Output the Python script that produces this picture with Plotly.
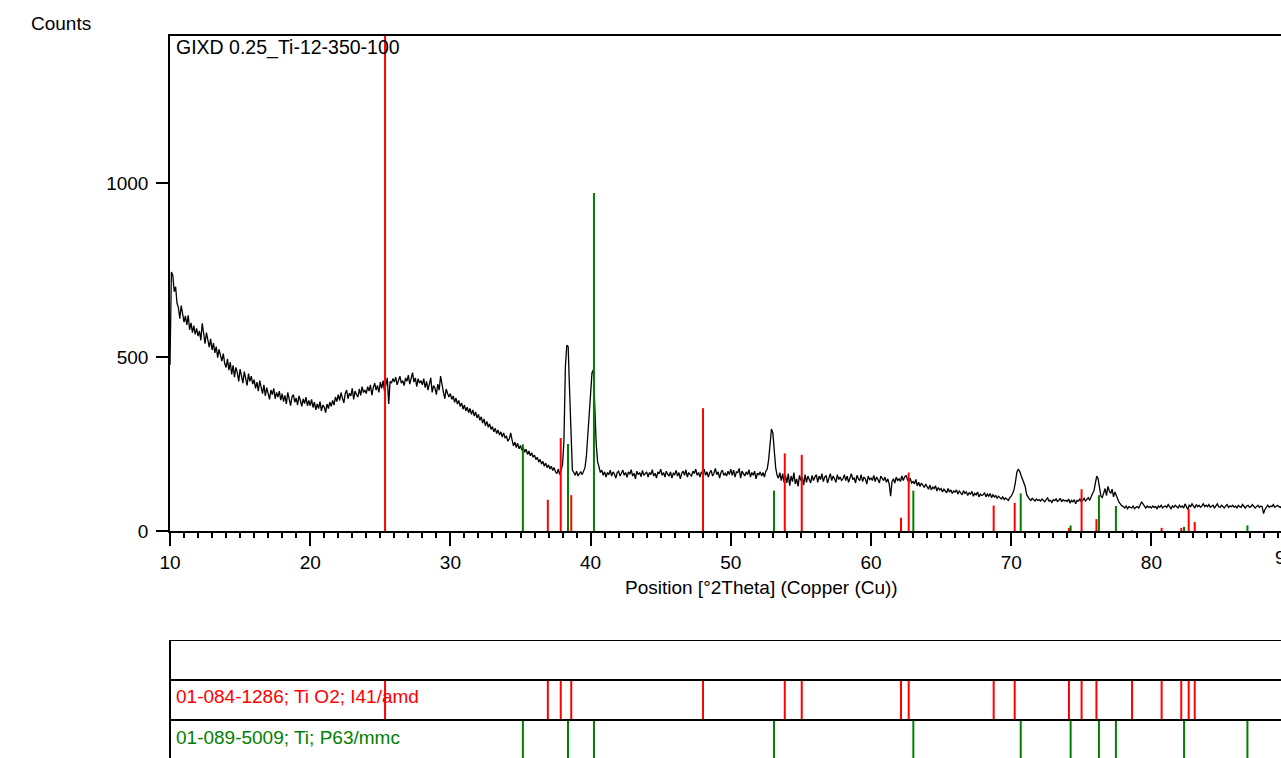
import numpy as np
import plotly.graph_objects as go

# ---------------- data ----------------
X_START = 10.0
X_STEP = 0.1
COUNTS = [
    # 10.0 - 11.9
    477, 744, 735, 688, 702, 655, 642, 610, 648, 625, 600, 618, 592, 620, 578, 598, 570, 590, 565, 582,
    # 12.0 - 13.9
    560, 575, 548, 597, 562, 538, 570, 545, 528, 552, 520, 540, 512, 530, 498, 522, 505, 488, 510, 482,
    # 14.0 - 15.9
    470, 495, 462, 485, 450, 476, 442, 470, 455, 430, 465, 448, 425, 458, 440, 418, 452, 430, 445, 422,
    # 16.0 - 17.9
    435, 410, 428, 402, 432, 415, 395, 420, 388, 412, 398, 378, 405, 392, 410, 380, 398, 385, 402, 376,
    # 18.0 - 19.9
    395, 372, 390, 365, 398, 380, 360, 385, 392, 370, 382, 362, 388, 375, 358, 380, 366, 385, 360, 375,
    # 20.0 - 21.9
    360, 378, 355, 370, 348, 365, 352, 372, 345, 362, 356, 340, 365, 352, 370, 358, 375, 362, 385, 372,
    # 22.0 - 23.9
    392, 375, 398, 382, 368, 395, 405, 380, 396, 388, 410, 378, 402, 392, 385, 408, 390, 415, 398, 405,
    # 24.0 - 25.9
    395, 415, 402, 420, 390, 412, 425, 405, 418, 398, 428, 410, 432, 402, 420, 440, 365, 430, 425, 438,
    # 26.0 - 27.9
    428, 442, 420, 436, 445, 425, 432, 418, 440, 430, 448, 422, 435, 455, 428, 440, 415, 438, 425, 432,
    # 28.0 - 29.9
    420, 438, 412, 430, 405, 425, 440, 398, 418, 410, 392, 422, 405, 445, 415, 400, 380, 408, 395, 385,
    # 30.0 - 31.9
    395, 378, 388, 370, 382, 365, 375, 358, 368, 350, 362, 345, 356, 340, 352, 335, 348, 330, 342, 325,
    # 32.0 - 33.9
    335, 318, 328, 310, 322, 302, 315, 298, 308, 292, 300, 285, 295, 280, 290, 276, 285, 270, 282, 268,
    # 34.0 - 35.9
    272, 258, 265, 282, 262, 245, 255, 240, 252, 236, 246, 232, 240, 226, 235, 220, 230, 216, 225, 212,
    # 36.0 - 37.9
    218, 205, 212, 198, 206, 192, 200, 186, 195, 182, 190, 178, 186, 174, 182, 170, 165, 178, 162, 175,
    # 38.0 - 39.9
    190, 260, 470, 534, 530, 405, 261, 175, 168, 160, 172, 158, 165, 170, 162, 175, 182, 215, 280, 330,
    # 40.0 - 41.9
    400, 455, 463, 356, 250, 200, 178, 168, 175, 160, 170, 155, 168, 162, 175, 158, 170, 164, 152, 168,
    # 42.0 - 43.9
    172, 158, 166, 175, 160, 168, 154, 170, 163, 176, 158, 166, 150, 172, 162, 168, 156, 174, 160, 165,
    # 44.0 - 45.9
    170, 155, 168, 162, 176, 158, 166, 152, 170, 164, 178, 160, 168, 155, 172, 163, 158, 170, 152, 166,
    # 46.0 - 47.9
    162, 174, 158, 168, 150, 166, 172, 160, 176, 155, 168, 162, 158, 172, 165, 178, 160, 168, 155, 170,
    # 48.0 - 49.9
    165, 178, 160, 170, 155, 168, 174, 158, 166, 180, 162, 170, 152, 168, 175, 160, 166, 158, 172, 162,
    # 50.0 - 51.9
    178, 160, 175, 155, 170, 168, 180, 152, 172, 165, 158, 170, 162, 176, 155, 168, 160, 172, 150, 166,
    # 52.0 - 53.9
    162, 170, 158, 168, 155, 172, 178, 205, 258, 293, 282, 232, 182, 160, 152, 168, 145, 165, 140, 160,
    # 54.0 - 55.9
    138, 165, 130, 158, 142, 168, 135, 150, 128, 160, 145, 155, 132, 162, 140, 158, 148, 138, 160, 145,
    # 56.0 - 57.9
    155, 162, 140, 158, 148, 165, 142, 155, 160, 138, 152, 165, 145, 158, 150, 140, 162, 148, 155, 145,
    # 58.0 - 59.9
    150, 162, 145, 158, 140, 155, 165, 148, 152, 138, 160, 150, 145, 162, 142, 155, 150, 135, 158, 148,
    # 60.0 - 61.9
    152, 145, 160, 142, 155, 148, 138, 158, 150, 145, 155, 140, 150, 135, 100, 142, 150, 138, 155, 145,
    # 62.0 - 63.9
    150, 142, 158, 145, 155, 160, 148, 140, 152, 138, 142, 135, 148, 130, 140, 128, 138, 132, 125, 135,
    # 64.0 - 65.9
    128, 120, 132, 118, 126, 122, 130, 115, 125, 118, 122, 112, 120, 116, 110, 122, 112, 118, 108, 115,
    # 66.0 - 67.9
    112, 118, 106, 115, 110, 104, 116, 108, 112, 102, 110, 106, 114, 100, 108, 104, 112, 98, 106, 102,
    # 68.0 - 69.9
    104, 110, 98, 106, 100, 108, 96, 104, 98, 102, 94, 100, 96, 92, 98, 90, 95, 92, 88, 96,
    # 70.0 - 71.9
    100, 108, 118, 140, 168, 177, 172, 160, 148, 142, 128, 105, 96, 92, 88, 94, 90, 86, 92, 88,
    # 72.0 - 73.9
    90, 86, 92, 88, 84, 90, 95, 86, 88, 82, 90, 87, 92, 85, 88, 94, 84, 90, 86, 88,
    # 74.0 - 75.9
    85, 92, 80, 88, 84, 90, 78, 88, 86, 92, 84, 88, 94, 86, 90, 96, 88, 100, 108, 115,
    # 76.0 - 77.9
    140, 158, 150, 120, 100, 96, 110, 122, 102, 128, 115, 108, 120, 98, 112, 104, 92, 82, 76, 72,
    # 78.0 - 79.9
    70, 66, 72, 64, 70, 68, 66, 72, 64, 68, 70, 66, 74, 84, 78, 70, 66, 72, 68, 70,
    # 80.0 - 81.9
    66, 72, 68, 70, 64, 72, 68, 74, 66, 70, 72, 68, 76, 70, 64, 72, 68, 74, 70, 66,
    # 82.0 - 83.9
    74, 68, 72, 66, 78, 70, 62, 74, 70, 78, 72, 66, 76, 70, 74, 68, 72, 78, 70, 74,
    # 84.0 - 85.9
    70, 76, 68, 72, 74, 66, 72, 78, 70, 68, 74, 70, 66, 72, 76, 68, 72, 70, 74, 68,
    # 86.0 - 87.9
    72, 66, 74, 70, 68, 76, 70, 66, 72, 74, 68, 70, 76, 72, 66, 70, 74, 68, 72, 70,
    # 88.0 - 89.4
    50, 62, 70, 74, 68, 72, 70, 76, 68, 72, 74, 70, 68, 72, 70,
]

# Reference pattern 01-084-1286; Ti O2; I41/amd
TIO2_POS = [25.34, 36.95, 37.87, 38.62, 48.02, 53.85, 55.06, 62.14, 62.69, 68.75,
            70.25, 74.12, 75.02, 76.08, 78.62, 80.73, 82.13, 82.66, 83.09]
TIO2_H = [1500, 90, 267, 103, 353, 223, 219, 38, 168, 73,
          81, 9, 120, 34, 2, 9, 9, 63, 26]

# Reference pattern 01-089-5009; Ti; P63/mmc
TI_POS = [35.17, 38.39, 40.24, 53.08, 63.02, 70.68, 74.24, 76.26, 77.47, 82.33, 86.85]
TI_H = [249, 250, 971, 116, 116, 108, 16, 103, 72, 12, 16]

X_TICKS = [10, 20, 30, 40, 50, 60, 70, 80, 90]
Y_TICKS = [0, 500, 1000]

SAMPLE_NAME = "GIXD 0.25_Ti-12-350-100"
TIO2_LABEL = "01-084-1286; Ti O2; I41/amd"
TI_LABEL = "01-089-5009; Ti; P63/mmc"
X_TITLE = "Position [°2Theta] (Copper (Cu))"
Y_TITLE = "Counts"

# ---------------- layout constants ----------------
WIN_W, WIN_H = 1281, 758
W = WIN_W
H = WIN_H + 11               # compensates the vertical shrink seen in the renderer
ML, MT = 170, 36
PLOT_H = WIN_H - 36
PLOT_W = WIN_W - 170
X_MAX = 89.245
Y_MAX = 1422.4
RED = "#FF0000"
GREEN = "#008000"
FONT = "Liberation Sans, Arial, sans-serif"
FS = 19


def pfy(py):
    """window pixel y -> paper fraction"""
    return (WIN_H - py) / PLOT_H


def pfx(px):
    """window pixel x -> paper fraction"""
    return (px - 170) / PLOT_W


x = np.round(X_START + X_STEP * np.arange(len(COUNTS)), 3)


def sticks(pos, y0, y1):
    xs, ys = [], []
    for p, a, b in zip(pos, y0, y1):
        xs += [p, p, None]
        ys += [a, b, None]
    return xs, ys


fig = go.Figure()

fig.add_trace(go.Scatter(x=x, y=COUNTS, mode="lines",
                         line=dict(color="black", width=1.3),
                         xaxis="x", yaxis="y", showlegend=False, hoverinfo="skip"))

sx, sy = sticks(TIO2_POS, [0] * len(TIO2_POS), TIO2_H)
fig.add_trace(go.Scatter(x=sx, y=sy, mode="lines", line=dict(color=RED, width=2),
                         xaxis="x", yaxis="y", showlegend=False, hoverinfo="skip"))
gx, gy = sticks(TI_POS, [0] * len(TI_POS), TI_H)
fig.add_trace(go.Scatter(x=gx, y=gy, mode="lines", line=dict(color=GREEN, width=2),
                         xaxis="x", yaxis="y", showlegend=False, hoverinfo="skip"))

sx2, sy2 = sticks(TIO2_POS, [1] * len(TIO2_POS), [2] * len(TIO2_POS))
fig.add_trace(go.Scatter(x=sx2, y=sy2, mode="lines", line=dict(color=RED, width=2),
                         xaxis="x2", yaxis="y2", showlegend=False, hoverinfo="skip"))
gx2, gy2 = sticks(TI_POS, [0] * len(TI_POS), [1] * len(TI_POS))
fig.add_trace(go.Scatter(x=gx2, y=gy2, mode="lines", line=dict(color=GREEN, width=2),
                         xaxis="x2", yaxis="y2", showlegend=False, hoverinfo="skip"))

panel_px = WIN_H - 640
fig.update_layout(
    width=W, height=H, autosize=False,
    margin=dict(l=ML, r=0, t=MT, b=0, pad=0),
    paper_bgcolor="white", plot_bgcolor="white",
    font=dict(family=FONT, size=FS, color="black"),
    xaxis=dict(domain=[0, 1], range=[X_START, X_MAX], anchor="y",
               tickvals=X_TICKS, ticks="outside", ticklen=13, tickwidth=1.5,
               tickcolor="black", showline=True, linecolor="black", linewidth=1.5,
               mirror=True, showgrid=False, zeroline=False,
               minor=dict(dtick=1, tick0=10, ticks="outside", ticklen=5,
                          tickwidth=1.5, tickcolor="black", showgrid=False),
               tickfont=dict(size=FS)),
    yaxis=dict(domain=[pfy(531), 1], range=[0, Y_MAX], anchor="x",
               tickvals=Y_TICKS, ticks="outside", ticklen=12, tickwidth=1.5,
               tickcolor="black", showline=True, linecolor="black", linewidth=1.5,
               showgrid=False, zeroline=False, tickfont=dict(size=FS),
               ticklabelstandoff=4),
    xaxis2=dict(domain=[0, 1], range=[X_START, X_MAX], anchor="y2", visible=False),
    yaxis2=dict(domain=[0, pfy(640)], range=[3 - panel_px / 40.0, 3], anchor="x2",
                visible=False),
)

for yv in [1, 2, 3]:
    fig.add_shape(type="line", xref="x2 domain", yref="y2", x0=0, x1=1, y0=yv, y1=yv,
                  line=dict(color="black", width=2))
fig.add_shape(type="line", xref="x2 domain", yref="y2 domain", x0=0, x1=0, y0=0, y1=1,
              line=dict(color="black", width=2))

fig.add_annotation(text=Y_TITLE, xref="paper", yref="paper", x=pfx(29),
                   y=pfy(24), xanchor="left", yanchor="middle", showarrow=False,
                   font=dict(size=FS))
fig.add_annotation(text=SAMPLE_NAME, xref="paper", yref="paper", x=pfx(174),
                   y=pfy(48), xanchor="left", yanchor="middle", showarrow=False,
                   font=dict(size=19.5))
fig.add_annotation(text=X_TITLE, xref="paper", yref="paper", x=pfx(761),
                   y=pfy(587), xanchor="center", yanchor="middle", showarrow=False,
                   font=dict(size=FS))
fig.add_annotation(text=TIO2_LABEL, xref="paper", yref="paper", x=pfx(174),
                   y=pfy(696), xanchor="left", yanchor="middle", showarrow=False,
                   font=dict(size=FS, color=RED))
fig.add_annotation(text=TI_LABEL, xref="paper", yref="paper", x=pfx(174),
                   y=pfy(737), xanchor="left", yanchor="middle", showarrow=False,
                   font=dict(size=FS, color=GREEN))
# last tick label, only its first digit shows at the window edge (as in the original)
fig.add_annotation(text=str(X_TICKS[-1]), xref="paper", yref="paper",
                   x=pfx(1273), y=pfy(557), xanchor="left", yanchor="middle",
                   showarrow=False, font=dict(size=FS))

fig.write_html(
    "out.html",
    config={"displayModeBar": False},
    post_script="document.body.style.margin='0';document.body.style.overflow='hidden';",
)
